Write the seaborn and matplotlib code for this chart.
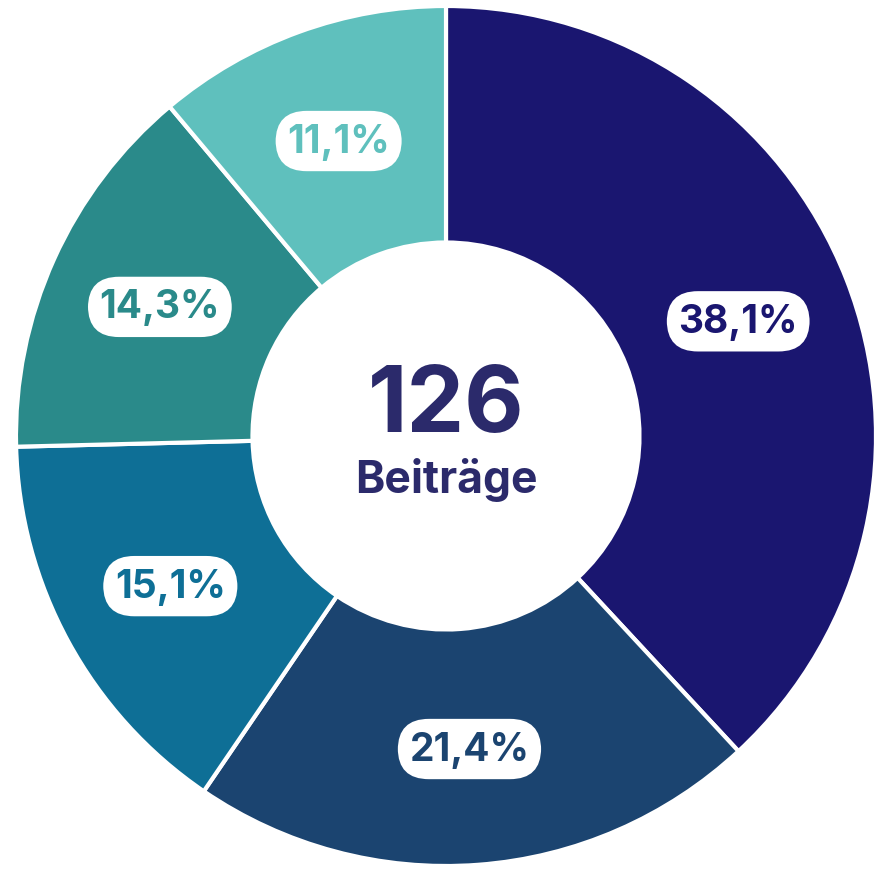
import matplotlib.pyplot as plt
import seaborn as sns

sns.set_style("white")
plt.rcParams["font.family"] = ["Inter", "DejaVu Sans"]

# Beiträge per category (126 in total)
counts = [48, 27, 19, 18, 14]
colors = ["#1a1670", "#1b4470", "#0e6f96", "#2a8a8a", "#5fc0bd"]
total_label = "126"
sub_label = "Beiträge"

fig = plt.figure(figsize=(8.74, 8.70), dpi=100)
ax = fig.add_axes([0, 0, 1, 1])

wedges, texts, autotexts = ax.pie(
    counts,
    colors=colors,
    startangle=90,
    counterclock=False,
    radius=1.0,
    wedgeprops=dict(width=0.55, edgecolor="white", linewidth=3),
    autopct=lambda p: f"{p:.1f}%".replace(".", ","),
    pctdistance=0.73,
)

for t, c in zip(autotexts, colors):
    t.set_color(c)
    t.set_fontsize(28)
    t.set_fontweight("bold")
    t.set_bbox(dict(boxstyle="round,pad=0.3,rounding_size=0.8", facecolor="white", edgecolor="none"))

ax.text(0, 0.067, total_label, ha="center", va="center", fontsize=66,
        fontweight="bold", color="#2b2a6b")
ax.text(0, -0.10, sub_label, ha="center", va="center", fontsize=32,
        fontweight="bold", color="#2b2a6b")

# place the donut like the reference: centre at (446, 437) px, radius 430 px
r = 430
ax.set_xlim(-446 / r, (874 - 446) / r)
ax.set_ylim(-(870 - 437) / r, 437 / r)
ax.set_aspect("equal")
ax.axis("off")

fig.savefig("out.png", dpi=100)
